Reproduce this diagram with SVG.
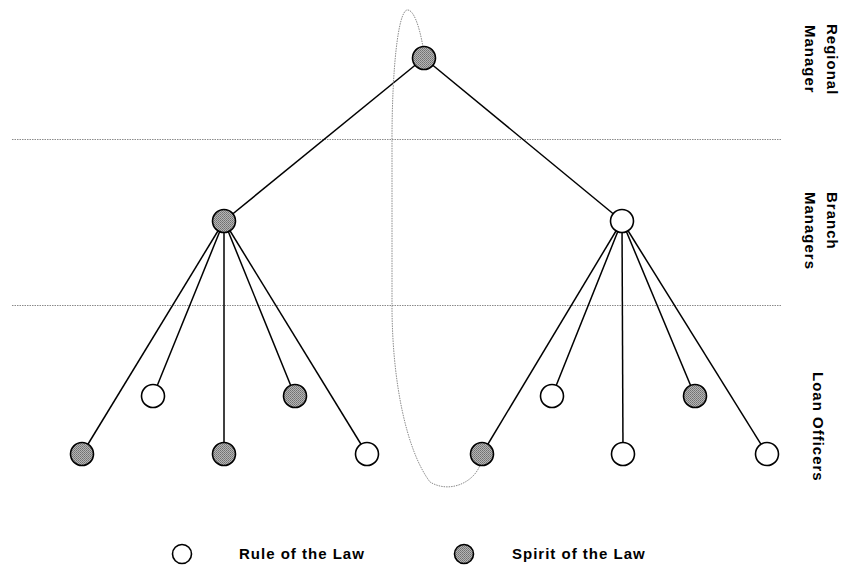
<svg xmlns="http://www.w3.org/2000/svg" width="841" height="565" viewBox="0 0 841 565">
<defs>
<pattern id="stip" width="2" height="2" patternUnits="userSpaceOnUse">
<rect width="2" height="2" fill="#b5b5b5"/>
<rect width="1" height="1" fill="#707070"/>
<rect x="1" y="1" width="1" height="1" fill="#808080"/>
</pattern>
</defs>
<style>
.sep{stroke:#8a8a8a;stroke-width:1;stroke-dasharray:1.5 1;fill:none}
.edge{stroke:#000;stroke-width:1.5;fill:none}
.loop{stroke:#8a8a8a;stroke-width:1;stroke-dasharray:1.5 1;fill:none}
.rule{fill:#fff;stroke:#000;stroke-width:1.6}
.spirit{fill:url(#stip);stroke:#000;stroke-width:1.6}
.lbl{font-family:"Liberation Sans",Arial,sans-serif;font-weight:bold;font-size:15px;letter-spacing:1px;fill:#000}
</style>
<rect width="841" height="565" fill="#fff"/>
<g id="separators">
<line class="sep" x1="12" y1="139.5" x2="782" y2="139.5"/>
<line class="sep" x1="12" y1="305.5" x2="782" y2="305.5"/>
</g>
<g id="connectors">
<line class="edge" x1="424" y1="58" x2="224" y2="221"/>
<line class="edge" x1="424" y1="58" x2="622" y2="221"/>
<line class="edge" x1="224" y1="221" x2="82" y2="454"/>
<line class="edge" x1="224" y1="221" x2="153" y2="396"/>
<line class="edge" x1="224" y1="221" x2="224" y2="454"/>
<line class="edge" x1="224" y1="221" x2="295" y2="396"/>
<line class="edge" x1="224" y1="221" x2="367" y2="454"/>
<line class="edge" x1="622" y1="221" x2="482" y2="454"/>
<line class="edge" x1="622" y1="221" x2="552" y2="396"/>
<line class="edge" x1="622" y1="221" x2="623" y2="454"/>
<line class="edge" x1="622" y1="221" x2="695" y2="396"/>
<line class="edge" x1="622" y1="221" x2="767" y2="454"/>
<path class="loop" d="M423,47 C419,24 413,9 407,10 C398,12 392,70 392,140 L392,305 C392,380 406,450 430,482 C450,494 474,482 480,465"/>
</g>
<g id="regional-manager"><circle class="spirit" cx="424" cy="58" r="11.5"/></g>
<g id="branch-left"><circle class="spirit" cx="224" cy="221" r="11.5"/></g>
<g id="branch-right"><circle class="rule" cx="622" cy="221" r="11.5"/></g>
<g id="lo-1"><circle class="spirit" cx="82" cy="454" r="11.5"/></g>
<g id="lo-2"><circle class="rule" cx="153" cy="396" r="11.5"/></g>
<g id="lo-3"><circle class="spirit" cx="224" cy="454" r="11.5"/></g>
<g id="lo-4"><circle class="spirit" cx="295" cy="396" r="11.5"/></g>
<g id="lo-5"><circle class="rule" cx="367" cy="454" r="11.5"/></g>
<g id="lo-6"><circle class="spirit" cx="482" cy="454" r="11.5"/></g>
<g id="lo-7"><circle class="rule" cx="552" cy="396" r="11.5"/></g>
<g id="lo-8"><circle class="rule" cx="623" cy="454" r="11.5"/></g>
<g id="lo-9"><circle class="spirit" cx="695" cy="396" r="11.5"/></g>
<g id="lo-10"><circle class="rule" cx="767" cy="454" r="11.5"/></g>
<g id="level-labels">
<text class="lbl" transform="translate(827,24) rotate(90)">Regional</text>
<text class="lbl" transform="translate(805,25) rotate(90)">Manager</text>
<text class="lbl" transform="translate(827,192) rotate(90)">Branch</text>
<text class="lbl" transform="translate(805,192) rotate(90)">Managers</text>
<text class="lbl" transform="translate(813,372) rotate(90)">Loan Officers</text>
</g>
<g id="legend-rule">
<circle class="rule" cx="182" cy="554" r="9.5"/>
<text class="lbl" x="239" y="559">Rule of the Law</text>
</g>
<g id="legend-spirit">
<circle class="spirit" cx="464" cy="554" r="9.5"/>
<text class="lbl" x="512" y="559">Spirit of the Law</text>
</g>
</svg>
